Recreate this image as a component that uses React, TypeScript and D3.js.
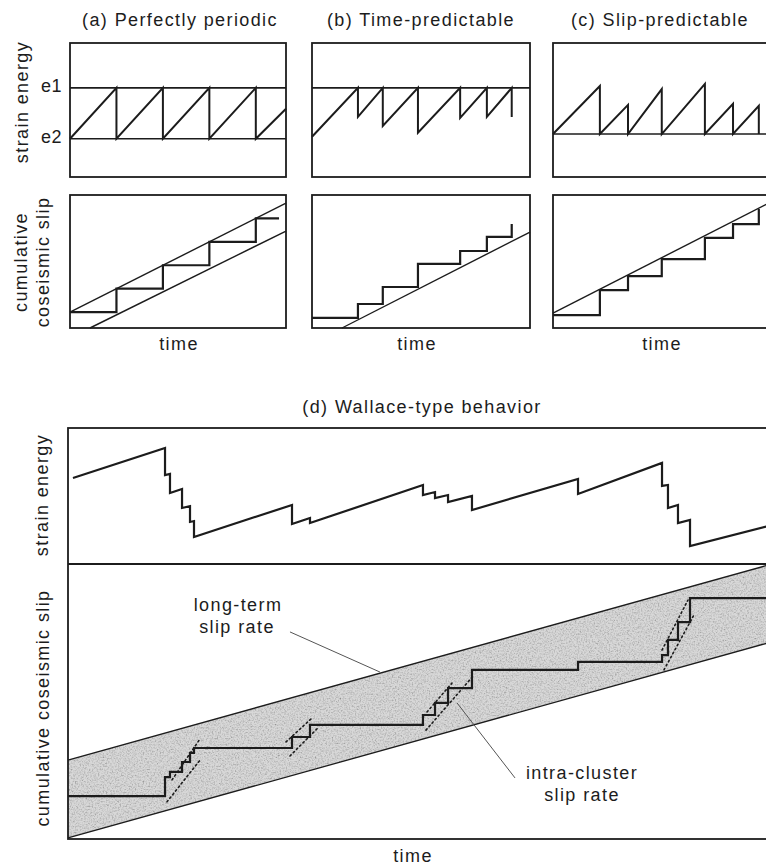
import * as d3 from "d3";
import React, { useEffect, useRef } from "react";

// ---- (a) perfectly periodic : [time, value] ----
const periodicEnergy = [[0, 0], [1, 1], [1, 0], [2, 1], [2, 0], [3, 1], [3, 0], [4, 1], [4, 0], [4.65, 0.59]];
const periodicSlip = [[0, 0], [1, 0], [1, 1], [2, 1], [2, 2], [3, 2], [3, 3], [4, 3], [4, 4], [4.5, 4]];
const periodicUpper = [[0, 0], [4.65, 4.65]];
const periodicLower = [[0.43, -0.68], [4.65, 3.46]];

// ---- (b) time-predictable ----
const timePredEnergy = [[0, 0.04], [0.98, 1], [0.98, 0.43], [1.51, 1], [1.51, 0.25], [2.26, 1], [2.26, 0.12],
  [3.16, 1], [3.16, 0.41], [3.73, 1], [3.73, 0.43], [4.26, 1], [4.26, 0.43]];
const timePredSlip = [[0, 0], [0.98, 0], [0.98, 0.58], [1.51, 0.58], [1.51, 1.29], [2.26, 1.29], [2.26, 2.25],
  [3.16, 2.25], [3.16, 2.79], [3.73, 2.79], [3.73, 3.38], [4.26, 3.38], [4.26, 3.92]];
const timePredLower = [[0.64, -0.42], [4.65, 3.58]];

// ---- (c) slip-predictable ----
const slipPredEnergy = [[0, 0], [1.0, 0.94], [1.0, 0], [1.6, 0.57], [1.6, 0], [2.32, 0.88], [2.32, 0],
  [3.24, 0.98], [3.24, 0], [3.84, 0.59], [3.84, 0], [4.39, 0.55], [4.39, 0]];
const slipPredSlip = [[0, 0], [1.0, 0], [1.0, 1.04], [1.6, 1.04], [1.6, 1.62], [2.32, 1.62], [2.32, 2.33],
  [3.24, 2.33], [3.24, 3.21], [3.84, 3.21], [3.84, 3.79], [4.39, 3.79], [4.39, 4.42]];
const slipPredUpper = [[0, 0.08], [4.65, 4.71]];

// ---- (d) Wallace-type behavior (time 0-100, energy 0-100, slip 0-100) ----
const wallaceEnergy = [[0.71, 63.2], [13.86, 85.3], [13.86, 65.4], [14.57, 66.2], [14.57, 52.2], [16.29, 55.1],
  [16.29, 41.2], [17.43, 42.6], [17.43, 30.9], [18.0, 31.6], [18.0, 19.9], [32.0, 43.4], [32.0, 29.4],
  [34.57, 33.8], [34.57, 30.1], [50.71, 58.1], [50.71, 50.7], [52.43, 52.9], [52.43, 48.5], [54.29, 50.7],
  [54.29, 45.6], [57.71, 50.0], [57.71, 39.7], [72.86, 62.5], [72.86, 51.5], [84.86, 74.3], [84.86, 57.4],
  [85.71, 58.1], [85.71, 41.2], [87.14, 43.4], [87.14, 30.1], [88.86, 32.4], [88.86, 13.2], [100, 27.9]];
const wallaceSlip = [[0, 15.6], [13.86, 15.6], [13.86, 22.5], [14.57, 22.5], [14.57, 24.4], [16.29, 24.4],
  [16.29, 28.0], [17.43, 28.0], [17.43, 31.3], [18.0, 31.3], [18.0, 33.1], [32.0, 33.1], [32.0, 37.1],
  [34.57, 37.1], [34.57, 41.5], [50.71, 41.5], [50.71, 45.1], [52.43, 45.1], [52.43, 49.5], [54.29, 49.5],
  [54.29, 54.9], [57.71, 54.9], [57.71, 61.5], [72.86, 61.5], [72.86, 64.4], [84.86, 64.4], [84.86, 66.9],
  [85.71, 66.9], [85.71, 72.4], [87.14, 72.4], [87.14, 78.9], [88.86, 78.9], [88.86, 87.6], [100, 87.6]];
const bandUpper = [[0, 28.7], [100, 99.6]];
const bandLower = [[0, 0.4], [100, 71.3]];
// intra-cluster slip rate (dotted), two per cluster
const clusterRates = [
  [[14.86, 21.5], [18.86, 36.4]], [[14.14, 13.5], [18.86, 28.7]],
  [[31.14, 35.3], [34.86, 44.0]], [[31.71, 30.2], [35.71, 40.4]],
  [[51.29, 46.2], [54.86, 56.7]], [[51.14, 39.6], [58.0, 59.6]],
  [[84.86, 68.7], [88.57, 86.9]], [[85.14, 61.5], [89.43, 81.5]]
];
const longTermLeader = [[31.71, 75.3], [44.57, 60.7]];
const intraLeader = [[63.86, 22.2], [55.57, 49.5]];

const W = 766;
const H = 868;
const ink = "#1c1c1c";
const font = "'Liberation Sans', Arial, Helvetica, sans-serif";

export default function App() {
  const svgRef = useRef(null);

  useEffect(() => {
    document.body.style.margin = "0";
    const svg = d3.select(svgRef.current);
    svg.selectAll("*").remove(); // clear before redraw

    // grainy fill for the slip-rate band
    const defs = svg.append("defs");
    const f = defs.append("filter").attr("id", "grain")
      .attr("x", 0).attr("y", 0).attr("width", 1).attr("height", 1);
    f.append("feTurbulence").attr("type", "fractalNoise").attr("baseFrequency", 0.65)
      .attr("numOctaves", 3).attr("seed", 4).attr("result", "noise");
    f.append("feColorMatrix").attr("in", "noise").attr("type", "matrix")
      .attr("values", "0.33 0.33 0.33 0 0  0.33 0.33 0.33 0 0  0.33 0.33 0.33 0 0  0 0 0 0 1")
      .attr("result", "gray");
    const ct = f.append("feComponentTransfer").attr("in", "gray").attr("result", "grain");
    ["feFuncR", "feFuncG", "feFuncB"].forEach(c =>
      ct.append(c).attr("type", "linear").attr("slope", 1.6).attr("intercept", 0.12));
    f.append("feBlend").attr("in", "SourceGraphic").attr("in2", "grain").attr("mode", "multiply").attr("result", "mix");
    f.append("feComposite").attr("in", "mix").attr("in2", "SourceGraphic").attr("operator", "in");

    const g = svg.append("g").style("font-family", font).style("font-size", "18px")
      .style("letter-spacing", "1.4px").attr("fill", ink);

    const drawPath = (data, x, y, width = 2, extra = {}) => {
      const line = d3.line().x(d => x(d[0])).y(d => y(d[1]));
      const p = g.append("path").attr("d", line(data)).attr("fill", "none")
        .attr("stroke", ink).attr("stroke-width", width).attr("stroke-linejoin", "miter");
      Object.entries(extra).forEach(([k, v]) => p.attr(k, v));
      return p;
    };
    const label = (txt, x, y, anchor = "middle", rotate = false) => {
      const t = g.append("text").text(txt).attr("text-anchor", anchor);
      if (rotate) t.attr("transform", `translate(${x},${y}) rotate(-90)`);
      else t.attr("x", x).attr("y", y);
      return t;
    };

    // ---------- small panels (a)-(c) ----------
    const eBox = [43, 177];
    const sBox = [195, 328];
    const panels = [
      { title: "(a) Perfectly periodic", titleX: 180, left: 70, right: 286, energy: periodicEnergy,
        eDomain: [-0.75, 1.88], eLevels: [1, 0], slip: periodicSlip, sDomain: [-0.68, 5.0],
        refLines: [periodicUpper, periodicLower], timeX: 179 },
      { title: "(b) Time-predictable", titleX: 421, left: 312, right: 530, energy: timePredEnergy,
        eDomain: [-0.75, 1.88], eLevels: [1], slip: timePredSlip, sDomain: [-0.42, 5.125],
        refLines: [timePredLower], timeX: 417 },
      { title: "(c) Slip-predictable", titleX: 660, left: 553, right: 771, energy: slipPredEnergy,
        eDomain: [-0.84, 1.78], eLevels: [0], slip: slipPredSlip, sDomain: [-0.54, 5.0],
        refLines: [slipPredUpper], timeX: 662 }
    ];

    panels.forEach(p => {
      const x = d3.scaleLinear().domain([0, 4.65]).range([p.left, p.right]);
      const yE = d3.scaleLinear().domain(p.eDomain).range([eBox[1], eBox[0]]);
      const yS = d3.scaleLinear().domain(p.sDomain).range([sBox[1], sBox[0]]);

      label(p.title, p.titleX, 26);

      // strain energy box
      g.append("rect").attr("x", p.left).attr("y", eBox[0]).attr("width", p.right - p.left)
        .attr("height", eBox[1] - eBox[0]).attr("fill", "none").attr("stroke", ink).attr("stroke-width", 1.8);
      p.eLevels.forEach(v => drawPath([[0, v], [4.65, v]], x, yE, 1.6));
      drawPath(p.energy, x, yE, 2);

      // cumulative slip box
      g.append("rect").attr("x", p.left).attr("y", sBox[0]).attr("width", p.right - p.left)
        .attr("height", sBox[1] - sBox[0]).attr("fill", "none").attr("stroke", ink).attr("stroke-width", 1.8);
      p.refLines.forEach(l => drawPath(l, x, yS, 1.4));
      drawPath(p.slip, x, yS, 2.2);

      label("time", p.timeX, 350);
    });

    // y labels for the top row
    label("strain energy", 28, 102, "middle", true);
    label("e1", 62, 92, "end").style("letter-spacing", "0.5px");
    label("e2", 62, 143, "end").style("letter-spacing", "0.5px");
    label("cumulative", 27, 262, "middle", true);
    label("coseismic slip", 49, 262, "middle", true);

    // ---------- (d) Wallace-type behavior ----------
    const dLeft = 68, dRight = 768, dTop = 428, dMid = 564, dBottom = 839;
    const xd = d3.scaleLinear().domain([0, 100]).range([dLeft, dRight]);
    const yEd = d3.scaleLinear().domain([0, 100]).range([dMid, dTop]);
    const ySd = d3.scaleLinear().domain([0, 100]).range([dBottom, dMid]);

    label("(d) Wallace-type behavior", 422, 413);

    // shaded band between long-term slip-rate lines
    const band = d3.area()
      .x((d, i) => xd(d[0]))
      .y0((d, i) => ySd(bandLower[i][1]))
      .y1(d => ySd(d[1]));
    g.append("path").attr("d", band(bandUpper)).attr("fill", "#d8d8d8").attr("filter", "url(#grain)");
    drawPath(bandUpper, xd, ySd, 1.3);
    drawPath(bandLower, xd, ySd, 1.3);

    // frames
    g.append("rect").attr("x", dLeft).attr("y", dTop).attr("width", dRight + 10 - dLeft)
      .attr("height", dBottom - dTop).attr("fill", "none").attr("stroke", ink).attr("stroke-width", 1.8);
    g.append("line").attr("x1", dLeft).attr("x2", dRight + 10).attr("y1", dMid).attr("y2", dMid)
      .attr("stroke", ink).attr("stroke-width", 1.8);

    drawPath(wallaceEnergy, xd, yEd, 2.2);
    clusterRates.forEach(l => drawPath(l, xd, ySd, 1.6, { "stroke-dasharray": "1.6 3", "stroke-linecap": "round" }));
    drawPath(wallaceSlip, xd, ySd, 2.2);

    // leaders + annotations
    drawPath(longTermLeader, xd, ySd, 1, { stroke: "#555" });
    drawPath(intraLeader, xd, ySd, 1, { stroke: "#555" });
    label("long-term", 238, 611);
    label("slip rate", 237, 633);
    label("intra-cluster", 582, 779);
    label("slip rate", 582, 801);

    label("strain energy", 48, 495, "middle", true);
    label("cumulative coseismic slip", 49, 708, "middle", true);
    label("time", 413, 862);
  }, []);

  return (
    <svg ref={svgRef} width={W} height={H} style={{ display: "block", background: "#fff" }} />
  );
}
